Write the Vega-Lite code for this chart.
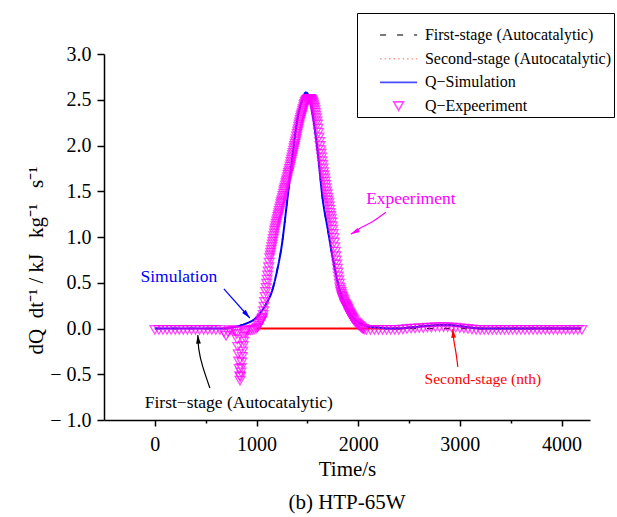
{
  "$schema": "https://vega.github.io/schema/vega-lite/v6.json",
  "width": 486,
  "height": 366,
  "autosize": "none",
  "padding": {"left": 104, "top": 54, "right": 27, "bottom": 97},
  "background": "white",
  "title": {"text": "(b) HTP-65W", "orient": "bottom", "anchor": "middle", "font": "Liberation Serif", "fontSize": 21, "fontWeight": "normal", "color": "#000", "offset": 13},
  "datasets": {
    "first": [
      {"t":0,"v":0,"series":"First-stage (Autocatalytic)"},{"t":200,"v":0,"series":"First-stage (Autocatalytic)"},{"t":400,"v":0,"series":"First-stage (Autocatalytic)"},{"t":600,"v":0,"series":"First-stage (Autocatalytic)"},{"t":700,"v":0,"series":"First-stage (Autocatalytic)"},{"t":750,"v":0.01,"series":"First-stage (Autocatalytic)"},{"t":800,"v":0.02,"series":"First-stage (Autocatalytic)"},{"t":850,"v":0.035,"series":"First-stage (Autocatalytic)"},{"t":900,"v":0.055,"series":"First-stage (Autocatalytic)"},{"t":950,"v":0.08,"series":"First-stage (Autocatalytic)"},{"t":1000,"v":0.12,"series":"First-stage (Autocatalytic)"},{"t":1050,"v":0.19,"series":"First-stage (Autocatalytic)"},{"t":1100,"v":0.28,"series":"First-stage (Autocatalytic)"},{"t":1150,"v":0.40,"series":"First-stage (Autocatalytic)"},{"t":1200,"v":0.62,"series":"First-stage (Autocatalytic)"},{"t":1250,"v":0.92,"series":"First-stage (Autocatalytic)"},{"t":1300,"v":1.38,"series":"First-stage (Autocatalytic)"},{"t":1350,"v":1.85,"series":"First-stage (Autocatalytic)"},{"t":1400,"v":2.27,"series":"First-stage (Autocatalytic)"},{"t":1450,"v":2.50,"series":"First-stage (Autocatalytic)"},{"t":1470,"v":2.56,"series":"First-stage (Autocatalytic)"},{"t":1485,"v":2.58,"series":"First-stage (Autocatalytic)"},{"t":1500,"v":2.57,"series":"First-stage (Autocatalytic)"},{"t":1520,"v":2.52,"series":"First-stage (Autocatalytic)"},{"t":1560,"v":2.28,"series":"First-stage (Autocatalytic)"},{"t":1600,"v":1.95,"series":"First-stage (Autocatalytic)"},{"t":1650,"v":1.42,"series":"First-stage (Autocatalytic)"},{"t":1700,"v":1.09,"series":"First-stage (Autocatalytic)"},{"t":1750,"v":0.77,"series":"First-stage (Autocatalytic)"},{"t":1800,"v":0.50,"series":"First-stage (Autocatalytic)"},{"t":1850,"v":0.32,"series":"First-stage (Autocatalytic)"},{"t":1900,"v":0.20,"series":"First-stage (Autocatalytic)"},{"t":1950,"v":0.12,"series":"First-stage (Autocatalytic)"},{"t":2000,"v":0.07,"series":"First-stage (Autocatalytic)"},{"t":2050,"v":0.04,"series":"First-stage (Autocatalytic)"},{"t":2100,"v":0.02,"series":"First-stage (Autocatalytic)"},{"t":2200,"v":0.01,"series":"First-stage (Autocatalytic)"},{"t":2300,"v":0,"series":"First-stage (Autocatalytic)"},{"t":3000,"v":0,"series":"First-stage (Autocatalytic)"},{"t":4190,"v":0,"series":"First-stage (Autocatalytic)"}
    ],
    "second": [
      {"t":2000,"v":0,"series":"Second-stage (Autocatalytic)"},{"t":2400,"v":0,"series":"Second-stage (Autocatalytic)"},{"t":2500,"v":0.01,"series":"Second-stage (Autocatalytic)"},{"t":2600,"v":0.02,"series":"Second-stage (Autocatalytic)"},{"t":2700,"v":0.03,"series":"Second-stage (Autocatalytic)"},{"t":2800,"v":0.035,"series":"Second-stage (Autocatalytic)"},{"t":2900,"v":0.035,"series":"Second-stage (Autocatalytic)"},{"t":3000,"v":0.025,"series":"Second-stage (Autocatalytic)"},{"t":3100,"v":0.01,"series":"Second-stage (Autocatalytic)"},{"t":3200,"v":0,"series":"Second-stage (Autocatalytic)"},{"t":4190,"v":0,"series":"Second-stage (Autocatalytic)"}
    ],
    "nth": [
      {"t":1000,"v":0},{"t":1500,"v":0},{"t":2000,"v":0},{"t":2400,"v":0},{"t":2500,"v":0.01},{"t":2600,"v":0.02},{"t":2700,"v":0.03},{"t":2800,"v":0.035},{"t":2900,"v":0.035},{"t":3000,"v":0.025},{"t":3100,"v":0.01},{"t":3200,"v":0},{"t":4190,"v":0}
    ],
    "sim": [
      {"t":0,"v":0,"series":"Q−Simulation"},{"t":200,"v":0,"series":"Q−Simulation"},{"t":400,"v":0,"series":"Q−Simulation"},{"t":600,"v":0,"series":"Q−Simulation"},{"t":700,"v":0,"series":"Q−Simulation"},{"t":750,"v":0.01,"series":"Q−Simulation"},{"t":800,"v":0.02,"series":"Q−Simulation"},{"t":850,"v":0.035,"series":"Q−Simulation"},{"t":900,"v":0.055,"series":"Q−Simulation"},{"t":950,"v":0.08,"series":"Q−Simulation"},{"t":1000,"v":0.12,"series":"Q−Simulation"},{"t":1050,"v":0.19,"series":"Q−Simulation"},{"t":1100,"v":0.28,"series":"Q−Simulation"},{"t":1150,"v":0.40,"series":"Q−Simulation"},{"t":1200,"v":0.62,"series":"Q−Simulation"},{"t":1250,"v":0.92,"series":"Q−Simulation"},{"t":1300,"v":1.38,"series":"Q−Simulation"},{"t":1350,"v":1.85,"series":"Q−Simulation"},{"t":1400,"v":2.27,"series":"Q−Simulation"},{"t":1450,"v":2.50,"series":"Q−Simulation"},{"t":1470,"v":2.56,"series":"Q−Simulation"},{"t":1485,"v":2.58,"series":"Q−Simulation"},{"t":1500,"v":2.57,"series":"Q−Simulation"},{"t":1520,"v":2.52,"series":"Q−Simulation"},{"t":1560,"v":2.28,"series":"Q−Simulation"},{"t":1600,"v":1.95,"series":"Q−Simulation"},{"t":1650,"v":1.42,"series":"Q−Simulation"},{"t":1700,"v":1.09,"series":"Q−Simulation"},{"t":1750,"v":0.77,"series":"Q−Simulation"},{"t":1800,"v":0.50,"series":"Q−Simulation"},{"t":1850,"v":0.32,"series":"Q−Simulation"},{"t":1900,"v":0.20,"series":"Q−Simulation"},{"t":1950,"v":0.12,"series":"Q−Simulation"},{"t":2000,"v":0.07,"series":"Q−Simulation"},{"t":2050,"v":0.04,"series":"Q−Simulation"},{"t":2100,"v":0.02,"series":"Q−Simulation"},{"t":2200,"v":0.01,"series":"Q−Simulation"},{"t":2300,"v":0,"series":"Q−Simulation"},{"t":2400,"v":0,"series":"Q−Simulation"},{"t":2500,"v":0.01,"series":"Q−Simulation"},{"t":2600,"v":0.02,"series":"Q−Simulation"},{"t":2700,"v":0.03,"series":"Q−Simulation"},{"t":2800,"v":0.035,"series":"Q−Simulation"},{"t":2900,"v":0.035,"series":"Q−Simulation"},{"t":3000,"v":0.025,"series":"Q−Simulation"},{"t":3100,"v":0.01,"series":"Q−Simulation"},{"t":3200,"v":0,"series":"Q−Simulation"},{"t":3600,"v":0,"series":"Q−Simulation"},{"t":4000,"v":0,"series":"Q−Simulation"},{"t":4190,"v":0,"series":"Q−Simulation"}
    ],
    "exp": [
      {"t":0,"v":-0.015},{"t":40,"v":-0.015},{"t":80,"v":-0.015},{"t":120,"v":-0.015},{"t":160,"v":-0.015},{"t":200,"v":-0.015},{"t":240,"v":-0.015},{"t":280,"v":-0.015},{"t":320,"v":-0.015},{"t":360,"v":-0.015},{"t":400,"v":-0.015},{"t":440,"v":-0.015},{"t":480,"v":-0.015},{"t":520,"v":-0.015},{"t":560,"v":-0.015},{"t":600,"v":-0.015},{"t":640,"v":-0.015},
      {"t":680,"v":-0.04},{"t":700,"v":-0.08},{"t":720,"v":-0.04},{"t":740,"v":-0.02},{"t":760,"v":-0.02},{"t":780,"v":-0.02},
      {"t":800,"v":-0.03},{"t":805,"v":-0.06},{"t":810,"v":-0.12},{"t":815,"v":-0.2},{"t":820,"v":-0.28},{"t":825,"v":-0.36},{"t":830,"v":-0.44},{"t":835,"v":-0.52},{"t":838,"v":-0.57},{"t":842,"v":-0.53},{"t":846,"v":-0.48},{"t":850,"v":-0.43},{"t":855,"v":-0.37},{"t":860,"v":-0.31},{"t":865,"v":-0.25},{"t":870,"v":-0.19},{"t":875,"v":-0.14},{"t":880,"v":-0.09},{"t":885,"v":-0.05},{"t":890,"v":-0.03},
      {"t":900,"v":-0.02},{"t":920,"v":-0.02},{"t":940,"v":-0.02},{"t":960,"v":-0.015},{"t":980,"v":-0.01},
      {"t":1000,"v":0.0},{"t":1010,"v":0.01},{"t":1020,"v":0.03},{"t":1030,"v":0.05},{"t":1040,"v":0.07},{"t":1050,"v":0.09},{"t":1060,"v":0.12},{"t":1070,"v":0.19},{"t":1080,"v":0.29},{"t":1090,"v":0.40},{"t":1100,"v":0.49},{"t":1110,"v":0.58},{"t":1120,"v":0.67},{"t":1130,"v":0.77},{"t":1140,"v":0.83},{"t":1150,"v":0.89},{"t":1160,"v":0.95},{"t":1170,"v":1.01},{"t":1180,"v":1.07},{"t":1190,"v":1.12},{"t":1200,"v":1.17},{"t":1210,"v":1.22},{"t":1220,"v":1.26},{"t":1230,"v":1.31},{"t":1240,"v":1.36},{"t":1250,"v":1.40},{"t":1260,"v":1.45},{"t":1270,"v":1.50},{"t":1280,"v":1.54},{"t":1290,"v":1.59},{"t":1300,"v":1.63},{"t":1310,"v":1.68},{"t":1320,"v":1.72},{"t":1330,"v":1.77},{"t":1340,"v":1.82},{"t":1350,"v":1.87},{"t":1360,"v":1.92},{"t":1370,"v":1.97},{"t":1380,"v":2.02},{"t":1390,"v":2.07},{"t":1400,"v":2.13},{"t":1410,"v":2.18},{"t":1420,"v":2.23},{"t":1430,"v":2.28},{"t":1440,"v":2.32},{"t":1450,"v":2.36},{"t":1460,"v":2.40},{"t":1470,"v":2.44},{"t":1480,"v":2.47},{"t":1490,"v":2.49},{"t":1500,"v":2.50},{"t":1510,"v":2.51},{"t":1520,"v":2.51},{"t":1530,"v":2.51},{"t":1540,"v":2.50},{"t":1550,"v":2.48},{"t":1560,"v":2.45},{"t":1570,"v":2.41},{"t":1580,"v":2.36},{"t":1590,"v":2.30},{"t":1600,"v":2.23},{"t":1610,"v":2.14},{"t":1620,"v":2.04},{"t":1630,"v":1.95},{"t":1640,"v":1.87},{"t":1650,"v":1.79},{"t":1660,"v":1.71},{"t":1670,"v":1.64},{"t":1680,"v":1.57},{"t":1690,"v":1.50},{"t":1700,"v":1.43},{"t":1710,"v":1.37},{"t":1720,"v":1.30},{"t":1730,"v":1.23},{"t":1740,"v":1.16},{"t":1750,"v":1.08},{"t":1760,"v":0.99},{"t":1770,"v":0.89},{"t":1780,"v":0.79},{"t":1790,"v":0.70},{"t":1800,"v":0.61},{"t":1810,"v":0.53},{"t":1820,"v":0.45},{"t":1830,"v":0.40},{"t":1840,"v":0.36},{"t":1850,"v":0.33},{"t":1860,"v":0.30},{"t":1870,"v":0.27},{"t":1880,"v":0.25},{"t":1890,"v":0.23},{"t":1900,"v":0.21},{"t":1910,"v":0.18},{"t":1920,"v":0.16},{"t":1930,"v":0.14},{"t":1940,"v":0.12},{"t":1950,"v":0.10},{"t":1960,"v":0.09},{"t":1970,"v":0.07},{"t":1980,"v":0.06},{"t":1990,"v":0.05},{"t":2000,"v":0.04},{"t":2010,"v":0.03},{"t":2020,"v":0.02},{"t":2030,"v":0.01},{"t":2040,"v":0.0},{"t":2050,"v":-0.005},{"t":2060,"v":-0.01},
      {"t":1045,"v":0.08},{"t":1055,"v":0.105},{"t":1065,"v":0.15},{"t":1075,"v":0.24},{"t":1085,"v":0.345},{"t":1095,"v":0.445},{"t":1105,"v":0.535},{"t":1115,"v":0.625},{"t":1125,"v":0.72},{"t":1135,"v":0.80},{"t":1145,"v":0.86},{"t":1155,"v":0.92},{"t":1165,"v":0.98},{"t":1175,"v":1.04},{"t":1185,"v":1.095},{"t":1195,"v":1.145},{"t":1205,"v":1.195},{"t":1215,"v":1.24},{"t":1225,"v":1.285},{"t":1235,"v":1.335},{"t":1245,"v":1.38},{"t":1255,"v":1.425},{"t":1265,"v":1.475},{"t":1275,"v":1.52},{"t":1285,"v":1.565},{"t":1295,"v":1.61},{"t":1305,"v":1.655},{"t":1315,"v":1.70},{"t":1325,"v":1.745},{"t":1335,"v":1.795},{"t":1345,"v":1.845},{"t":1355,"v":1.895},{"t":1365,"v":1.945},{"t":1375,"v":1.995},{"t":1385,"v":2.045},{"t":1395,"v":2.10},{"t":1405,"v":2.155},{"t":1415,"v":2.205},{"t":1425,"v":2.255},{"t":1435,"v":2.30},{"t":1445,"v":2.34},{"t":1455,"v":2.38},{"t":1465,"v":2.42},{"t":1475,"v":2.455},{"t":1485,"v":2.48},{"t":1495,"v":2.495},{"t":1505,"v":2.505},{"t":1515,"v":2.51},{"t":1525,"v":2.51},{"t":1535,"v":2.505},{"t":1545,"v":2.49},{"t":1555,"v":2.465},{"t":1565,"v":2.43},{"t":1575,"v":2.385},{"t":1585,"v":2.33},{"t":1595,"v":2.265},{"t":1605,"v":2.185},{"t":1615,"v":2.09},{"t":1625,"v":1.995},{"t":1635,"v":1.91},{"t":1645,"v":1.83},{"t":1655,"v":1.75},{"t":1665,"v":1.675},{"t":1675,"v":1.605},{"t":1685,"v":1.535},{"t":1695,"v":1.465},{"t":1705,"v":1.40},{"t":1715,"v":1.335},{"t":1725,"v":1.265},{"t":1735,"v":1.195},{"t":1745,"v":1.12},{"t":1755,"v":1.035},{"t":1765,"v":0.94},{"t":1775,"v":0.84},{"t":1785,"v":0.745},{"t":1795,"v":0.655},{"t":1805,"v":0.57},{"t":1815,"v":0.49},{"t":1825,"v":0.425},{"t":1835,"v":0.38},{"t":1845,"v":0.345},{"t":1855,"v":0.315},{"t":1865,"v":0.285},{"t":1875,"v":0.26},{"t":1885,"v":0.24},{"t":1895,"v":0.22},{"t":1905,"v":0.195},{"t":1915,"v":0.17},{"t":1925,"v":0.15},{"t":1935,"v":0.13},{"t":1945,"v":0.11},
      {"t":2080,"v":-0.015},{"t":2120,"v":-0.015},{"t":2160,"v":-0.015},{"t":2200,"v":-0.015},{"t":2240,"v":-0.015},{"t":2280,"v":-0.015},{"t":2320,"v":-0.015},{"t":2360,"v":-0.015},{"t":2400,"v":-0.015},{"t":2440,"v":-0.01},{"t":2480,"v":-0.005},{"t":2520,"v":0.0},{"t":2560,"v":0.0},{"t":2600,"v":0.005},{"t":2640,"v":0.005},{"t":2680,"v":0.01},{"t":2720,"v":0.01},{"t":2760,"v":0.015},{"t":2800,"v":0.015},{"t":2840,"v":0.015},{"t":2880,"v":0.015},{"t":2920,"v":0.01},{"t":2960,"v":0.01},{"t":3000,"v":0.005},{"t":3040,"v":0.0},{"t":3080,"v":-0.005},{"t":3120,"v":-0.01},{"t":3160,"v":-0.015},
      {"t":3200,"v":-0.015},{"t":3240,"v":-0.015},{"t":3280,"v":-0.015},{"t":3320,"v":-0.015},{"t":3360,"v":-0.015},{"t":3400,"v":-0.015},{"t":3440,"v":-0.015},{"t":3480,"v":-0.015},{"t":3520,"v":-0.015},{"t":3560,"v":-0.015},{"t":3600,"v":-0.015},{"t":3640,"v":-0.015},{"t":3680,"v":-0.015},{"t":3720,"v":-0.015},{"t":3760,"v":-0.015},{"t":3800,"v":-0.015},{"t":3840,"v":-0.015},{"t":3880,"v":-0.015},{"t":3920,"v":-0.015},{"t":3960,"v":-0.015},{"t":4000,"v":-0.015},{"t":4040,"v":-0.015},{"t":4080,"v":-0.015},{"t":4120,"v":-0.015},{"t":4160,"v":-0.015},{"t":4200,"v":-0.015}
    ],
    "arrows": [
      {"arrow":"sim","k":0,"t":679,"v":0.432},{"arrow":"sim","k":1,"t":934,"v":0.115},
      {"arrow":"first","k":0,"t":541,"v":-0.65},{"arrow":"first","k":1,"t":472,"v":-0.42},{"arrow":"first","k":2,"t":433,"v":-0.23},{"arrow":"first","k":3,"t":423,"v":-0.07},
      {"arrow":"exp","k":0,"t":2272,"v":1.27},{"arrow":"exp","k":1,"t":2144,"v":1.17},{"arrow":"exp","k":2,"t":2026,"v":1.10},{"arrow":"exp","k":3,"t":1928,"v":1.03},
      {"arrow":"nth","k":0,"t":2980,"v":-0.42},{"arrow":"nth","k":1,"t":2961,"v":-0.26},{"arrow":"nth","k":2,"t":2941,"v":-0.13},{"arrow":"nth","k":3,"t":2931,"v":-0.005}
    ],
    "heads": [
      {"arrow":"sim","t":934,"v":0.115},
      {"arrow":"first","t":423,"v":-0.07},
      {"arrow":"exp","t":1928,"v":1.03},
      {"arrow":"nth","t":2931,"v":-0.005}
    ],
    "notes": [
      {"id":"sim","label":"Simulation","t":236,"v":0.563},
      {"id":"exp","label":"Expeeriment","t":2518,"v":1.415},
      {"id":"first","label":"First−stage (Autocatalytic)","t":826,"v":-0.814},
      {"id":"nth","label":"Second-stage (nth)","t":3226,"v":-0.55}
    ]
  },
  "layer": [
    {
      "data": {"name": "first"},
      "mark": {"type": "line", "strokeWidth": 1.5, "interpolate": "monotone"},
      "encoding": {
        "x": {"field": "t", "type": "quantitative", "scale": {"domain": [-500, 4280], "nice": false, "zero": false},
          "axis": {"title": "Time/s", "values": [0,500,1000,1500,2000,2500,3000,3500,4000],
            "labelExpr": "datum.value % 1000 === 0 ? format(datum.value, 'd') : ''",
            "tickSize": {"condition": {"test": "datum.value % 1000 === 0", "value": 6}, "value": 3},
            "labelFontSize": 20, "titleFontSize": 21, "labelPadding": 8, "titlePadding": 4,
            "domainWidth": 1.5, "tickWidth": 1.5, "labelFlush": false, "labelOverlap": false, "grid": false}},
        "y": {"field": "v", "type": "quantitative", "scale": {"domain": [-1, 3], "nice": false, "zero": false},
          "axis": {"title": "dQ\u00a0\u00a0dt⁻¹\u00a0/\u00a0kJ\u00a0\u00a0\u00a0kg⁻¹\u00a0\u00a0\u00a0s⁻¹", "values": [-1,-0.75,-0.5,-0.25,0,0.25,0.5,0.75,1,1.25,1.5,1.75,2,2.25,2.5,2.75,3],
            "labelExpr": "abs(datum.value*2 - round(datum.value*2)) > 0.01 ? '' : (datum.value < 0 ? '− ' + format(-datum.value, '.1f') : format(datum.value, '.1f'))",
            "tickSize": {"condition": {"test": "abs(datum.value*2 - round(datum.value*2)) < 0.01", "value": 7}, "value": 4},
            "labelFontSize": 20, "titleFontSize": 21, "labelPadding": 6,
            "titleX": -68, "titleY": 206, "titleAngle": -90, "titleAlign": "center", "titleBaseline": "middle",
            "domainWidth": 1.5, "tickWidth": 1.5, "labelOverlap": false, "grid": false}},
        "color": {"field": "series", "type": "nominal",
          "scale": {"domain": ["First-stage (Autocatalytic)", "Second-stage (Autocatalytic)", "Q−Simulation", "Q−Expeeriment"], "range": ["#000000", "#ff6f6f", "#0000ff", "#ff00ff"]},
          "legend": {"title": " ", "titleFontSize": 9, "titlePadding": 3, "orient": "none", "legendX": 253, "legendY": -41, "padding": 2,
            "strokeColor": "#000", "fillColor": "#fff", "labelFont": "Liberation Serif", "labelFontSize": 16, "labelColor": "#000",
            "rowPadding": 7.7, "symbolOffset": 31.6, "labelOffset": 18.3, "symbolSize": 95, "symbolStrokeWidth": 1.6, "labelLimit": 400}},
        "strokeDash": {"field": "series", "type": "nominal",
          "scale": {"domain": ["First-stage (Autocatalytic)", "Second-stage (Autocatalytic)", "Q−Simulation", "Q−Expeeriment"], "range": [[6, 11], [1.5, 3], [1, 0], [1, 0]]}}
      }
    },
    {
      "data": {"name": "second"},
      "mark": {"type": "line", "strokeWidth": 1.5, "interpolate": "monotone"},
      "encoding": {
        "x": {"field": "t", "type": "quantitative"},
        "y": {"field": "v", "type": "quantitative"},
        "color": {"field": "series", "type": "nominal"},
        "strokeDash": {"field": "series", "type": "nominal"}
      }
    },
    {
      "data": {"name": "nth"},
      "mark": {"type": "line", "strokeWidth": 2, "color": "#ff0000", "interpolate": "monotone"},
      "encoding": {
        "x": {"field": "t", "type": "quantitative"},
        "y": {"field": "v", "type": "quantitative"}
      }
    },
    {
      "data": {"name": "sim"},
      "mark": {"type": "line", "strokeWidth": 2, "interpolate": "monotone"},
      "encoding": {
        "x": {"field": "t", "type": "quantitative"},
        "y": {"field": "v", "type": "quantitative"},
        "color": {"field": "series", "type": "nominal"},
        "strokeDash": {"field": "series", "type": "nominal"}
      }
    },
    {
      "data": {"name": "exp"},
      "transform": [{"calculate": "'Q−Expeeriment'", "as": "series"}],
      "mark": {"type": "point", "filled": false, "size": 95, "strokeWidth": 1.3},
      "encoding": {
        "x": {"field": "t", "type": "quantitative"},
        "y": {"field": "v", "type": "quantitative"},
        "color": {"field": "series", "type": "nominal"},
        "strokeDash": {"field": "series", "type": "nominal"},
        "shape": {"field": "series", "type": "nominal",
          "scale": {"domain": ["First-stage (Autocatalytic)", "Second-stage (Autocatalytic)", "Q−Simulation", "Q−Expeeriment"], "range": ["M-3.8,0H3.8", "M-3.8,0H3.8", "M-3.8,0H3.8", "triangle-down"]}}
      }
    },
    {
      "data": {"name": "arrows"}, "transform": [{"filter": "datum.arrow === 'sim'"}],
      "mark": {"type": "line", "color": "#0000ff", "strokeWidth": 1.2},
      "encoding": {"x": {"field": "t", "type": "quantitative"}, "y": {"field": "v", "type": "quantitative"}, "order": {"field": "k"}}
    },
    {
      "data": {"name": "arrows"}, "transform": [{"filter": "datum.arrow === 'first'"}],
      "mark": {"type": "line", "color": "#000000", "strokeWidth": 1.2, "interpolate": "natural"},
      "encoding": {"x": {"field": "t", "type": "quantitative"}, "y": {"field": "v", "type": "quantitative"}, "order": {"field": "k"}}
    },
    {
      "data": {"name": "arrows"}, "transform": [{"filter": "datum.arrow === 'exp'"}],
      "mark": {"type": "line", "color": "#ff00ff", "strokeWidth": 1.2, "interpolate": "natural"},
      "encoding": {"x": {"field": "t", "type": "quantitative"}, "y": {"field": "v", "type": "quantitative"}, "order": {"field": "k"}}
    },
    {
      "data": {"name": "arrows"}, "transform": [{"filter": "datum.arrow === 'nth'"}],
      "mark": {"type": "line", "color": "#ff0000", "strokeWidth": 1.2, "interpolate": "natural"},
      "encoding": {"x": {"field": "t", "type": "quantitative"}, "y": {"field": "v", "type": "quantitative"}, "order": {"field": "k"}}
    },
    {
      "data": {"name": "heads"}, "transform": [{"filter": "datum.arrow === 'sim'"}],
      "mark": {"type": "point", "shape": "M0,0L0.6,2.2L-0.6,2.2Z", "size": 64, "filled": true, "opacity": 1, "color": "#0000ff", "angle": 138},
      "encoding": {"x": {"field": "t", "type": "quantitative"}, "y": {"field": "v", "type": "quantitative"}}
    },
    {
      "data": {"name": "heads"}, "transform": [{"filter": "datum.arrow === 'first'"}],
      "mark": {"type": "point", "shape": "M0,0L0.6,2.2L-0.6,2.2Z", "size": 64, "filled": true, "opacity": 1, "color": "#000000", "angle": 356},
      "encoding": {"x": {"field": "t", "type": "quantitative"}, "y": {"field": "v", "type": "quantitative"}}
    },
    {
      "data": {"name": "heads"}, "transform": [{"filter": "datum.arrow === 'exp'"}],
      "mark": {"type": "point", "shape": "M0,0L0.6,2.2L-0.6,2.2Z", "size": 64, "filled": true, "opacity": 1, "color": "#ff00ff", "angle": 241},
      "encoding": {"x": {"field": "t", "type": "quantitative"}, "y": {"field": "v", "type": "quantitative"}}
    },
    {
      "data": {"name": "heads"}, "transform": [{"filter": "datum.arrow === 'nth'"}],
      "mark": {"type": "point", "shape": "M0,0L0.6,2.2L-0.6,2.2Z", "size": 64, "filled": true, "opacity": 1, "color": "#ff0000", "angle": 355},
      "encoding": {"x": {"field": "t", "type": "quantitative"}, "y": {"field": "v", "type": "quantitative"}}
    },
    {
      "data": {"name": "notes"}, "transform": [{"filter": "datum.id === 'sim'"}],
      "mark": {"type": "text", "font": "Liberation Serif", "fontSize": 17.5, "color": "#0000ff"},
      "encoding": {"x": {"field": "t", "type": "quantitative"}, "y": {"field": "v", "type": "quantitative"}, "text": {"field": "label"}}
    },
    {
      "data": {"name": "notes"}, "transform": [{"filter": "datum.id === 'exp'"}],
      "mark": {"type": "text", "font": "Liberation Serif", "fontSize": 17.5, "color": "#ff00ff"},
      "encoding": {"x": {"field": "t", "type": "quantitative"}, "y": {"field": "v", "type": "quantitative"}, "text": {"field": "label"}}
    },
    {
      "data": {"name": "notes"}, "transform": [{"filter": "datum.id === 'first'"}],
      "mark": {"type": "text", "font": "Liberation Serif", "fontSize": 17.5, "color": "#000000"},
      "encoding": {"x": {"field": "t", "type": "quantitative"}, "y": {"field": "v", "type": "quantitative"}, "text": {"field": "label"}}
    },
    {
      "data": {"name": "notes"}, "transform": [{"filter": "datum.id === 'nth'"}],
      "mark": {"type": "text", "font": "Liberation Serif", "fontSize": 15.5, "color": "#ff0000"},
      "encoding": {"x": {"field": "t", "type": "quantitative"}, "y": {"field": "v", "type": "quantitative"}, "text": {"field": "label"}}
    }
  ],
  "config": {
    "view": {"stroke": null},
    "font": "Liberation Serif",
    "axis": {"grid": false, "domainColor": "#000", "tickColor": "#000", "labelColor": "#000", "titleColor": "#000",
      "labelFont": "Liberation Serif", "titleFont": "Liberation Serif", "titleFontWeight": "normal"}
  }
}
